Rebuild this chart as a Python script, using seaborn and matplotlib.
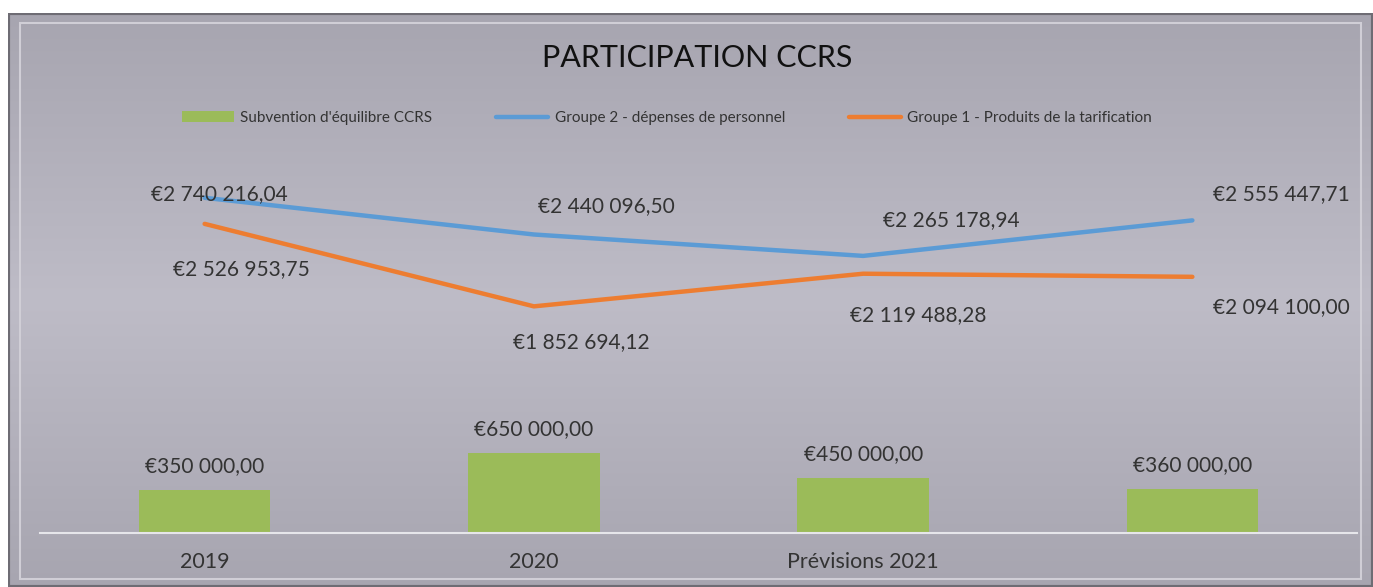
import numpy as np
import pandas as pd
import matplotlib
matplotlib.use("Agg")
import matplotlib.pyplot as plt
from matplotlib.patches import Rectangle, Patch
from matplotlib.lines import Line2D
import seaborn as sns

categories = ["2019", "2020", "Prévisions 2021", ""]
subvention = [350000.00, 650000.00, 450000.00, 360000.00]
groupe2 = [2740216.04, 2440096.50, 2265178.94, 2555447.71]
groupe1 = [2526953.75, 1852694.12, 2119488.28, 2094100.00]
series_names = ["Subvention d'équilibre CCRS", "Groupe 2 - dépenses de personnel",
                "Groupe 1 - Produits de la tarification"]
title = "PARTICIPATION CCRS"

GREEN, BLUE, ORANGE = "#9BBB59", "#5B9BD5", "#ED7D31"
TXT = "#333333"

def fmt(v):
    s = f"{v:,.2f}"
    s = s.replace(",", " ").replace(".", ",")
    return "€" + s

sns.set_theme(style="white")
plt.rcParams['font.family'] = ['Lato', 'DejaVu Sans']

W, H = 1373, 587
fig = plt.figure(figsize=(W / 100, H / 100), dpi=100)
fig.patch.set_facecolor("white")

# background gradient panel
bg = fig.add_axes([8 / W, 0, 1 - 8 / W, 1 - 13 / H], zorder=0)
yy = np.linspace(0, 1, 256)
prof = 1 - np.abs(yy - 0.5) * 2
c_edge = np.array([0.655, 0.647, 0.690])
c_mid = np.array([0.745, 0.737, 0.780])
img = c_edge[None, :] + (c_mid - c_edge)[None, :] * prof[:, None]
bg.imshow(img[:, None, :], aspect="auto", extent=[0, 1, 0, 1])
bg.set_xlim(0, 1); bg.set_ylim(0, 1)
bg.axis("off")
bg.add_patch(Rectangle((0, 0), 1, 1, transform=bg.transAxes, fill=False,
                       edgecolor="#6e6c74", linewidth=3))
# inner bevel
bx0, by0 = 12 / (W - 8), 8 / (H - 13)
bg.add_patch(Rectangle((bx0, by0), 1 - 2 * bx0, 1 - 2.2 * by0, transform=bg.transAxes,
                       fill=False, edgecolor="#d0ced6", linewidth=1.5))

# main axes
left, right = 40, 1357
bottom_px, top_px = 533, 166
ax = fig.add_axes([left / W, 1 - bottom_px / H, (right - left) / W, (bottom_px - top_px) / H], zorder=2)
ax.patch.set_alpha(0)

df = pd.DataFrame({"cat": categories, "pos": np.arange(4), "sub": subvention,
                   "g2": groupe2, "g1": groupe1})

sns.barplot(data=df, x="pos", y="sub", color=GREEN, saturation=1, width=0.4, ax=ax,
            native_scale=True, edgecolor="none")
sns.lineplot(data=df, x="pos", y="g2", color=BLUE, linewidth=3.2, ax=ax)
sns.lineplot(data=df, x="pos", y="g1", color=ORANGE, linewidth=3.2, ax=ax)

ax.set_xlim(-0.5, 3.5)
ax.set_ylim(0, 3000000)
ax.set_xticks(np.arange(4))
ax.set_xticklabels(categories, fontsize=15.5, color=TXT)
ax.tick_params(axis="x", length=0, pad=14)
ax.set_yticks([])
ax.set_xlabel(""); ax.set_ylabel("")
for s in ["top", "left", "right"]:
    ax.spines[s].set_visible(False)
ax.spines["bottom"].set_color("#e6e6ea")
ax.spines["bottom"].set_linewidth(1.5)

lab_kw = dict(textcoords="offset pixels", ha="center", va="center", fontsize=15, color=TXT)
for i, v in enumerate(subvention):
    ax.annotate(fmt(v), (i, v), xytext=(0, 24), **lab_kw)
g2_off = [(15, 4), (72, 28), (88, 36), (89, 26)]
for i, v in enumerate(groupe2):
    ax.annotate(fmt(v), (i, v), xytext=g2_off[i], **lab_kw)
g1_off = [(37, -45), (47, -36), (55, -41), (89, -30)]
for i, v in enumerate(groupe1):
    ax.annotate(fmt(v), (i, v), xytext=g1_off[i], **lab_kw)

fig.text(697 / W, 1 - 58 / H, title, ha="center", va="center", fontsize=22, color="#111111")

handles = [Patch(facecolor=GREEN, edgecolor="none"),
           Line2D([0], [0], color=BLUE, linewidth=3.2),
           Line2D([0], [0], color=ORANGE, linewidth=3.2)]
fig.legend(handles, series_names, loc="center", bbox_to_anchor=(667 / W, 1 - 118 / H), ncol=3,
           frameon=False, fontsize=11, handlelength=3.4, handletextpad=0.4,
           columnspacing=4.2, labelcolor=TXT)

fig.savefig("out.png", dpi=100)
